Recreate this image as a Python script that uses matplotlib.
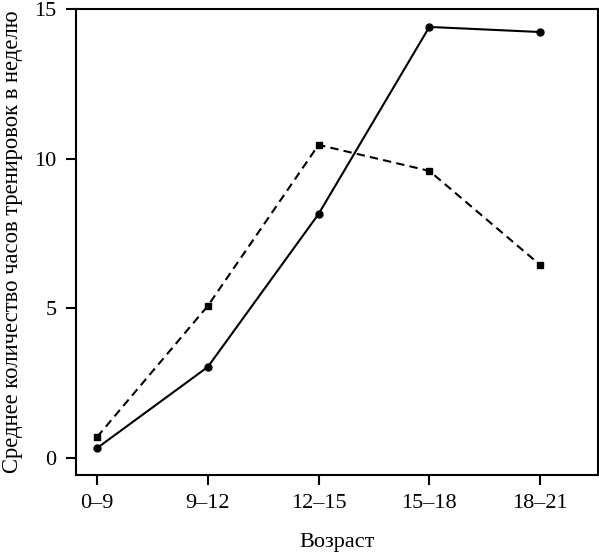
import matplotlib
matplotlib.use("Agg")
import matplotlib.pyplot as plt

age_groups = ["0–9", "9–12", "12–15", "15–18", "18–21"]
solid_hours = [0.33, 3.04, 8.15, 14.40, 14.23]
dashed_hours = [0.70, 5.08, 10.46, 9.59, 6.45]

plt.rcParams["font.family"] = ["Liberation Serif", "DejaVu Serif"]

fig = plt.figure(figsize=(5.99, 5.54), dpi=100)
ax = fig.add_axes([0.1269, 0.1426, 0.9978 - 0.1269, 0.9838 - 0.1426])

x = list(range(len(age_groups)))
ax.plot(x, solid_hours, color="black", linestyle="-", linewidth=1.5,
        marker="o", markersize=5)
ax.plot(x, dashed_hours, color="black", linestyle=(0, (4, 2.5)), linewidth=1.5,
        marker="s", markersize=5)

ax.set_xlim(-0.19, 4.52)
ax.set_ylim(-0.57, 15)
ax.set_xticks(x)
ax.set_xticklabels(age_groups)
ax.set_yticks([0, 5, 10, 15])

for spine in ax.spines.values():
    spine.set_linewidth(1.5)
ax.tick_params(direction="out", length=7, width=1.5, labelsize=16, pad=7)

ax.set_xlabel("Возраст", fontsize=16, labelpad=14)
ax.set_ylabel("Среднее количество часов тренировок в неделю", fontsize=16.3,
              labelpad=8)

fig.savefig("out.png", dpi=100)
plt.close(fig)
